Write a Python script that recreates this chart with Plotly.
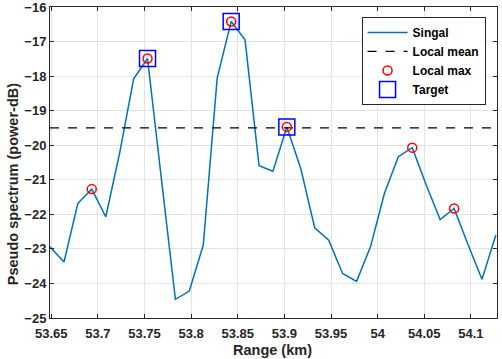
import plotly.graph_objects as go

range_km = [53.6486, 53.6636, 53.6785, 53.6934, 53.7084, 53.7233, 53.7383, 53.7532,
            53.7681, 53.7831, 53.7980, 53.8130, 53.8279, 53.8429, 53.8578, 53.8728,
            53.8877, 53.9026, 53.9176, 53.9325, 53.9475, 53.9624, 53.9774, 53.9923,
            54.0073, 54.0222, 54.0371, 54.0521, 54.0670, 54.0820, 54.0969, 54.1119,
            54.1268]
signal_db = [-22.94, -23.38, -21.68, -21.27, -22.07, -20.23, -18.08, -17.49,
             -20.98, -24.46, -24.22, -22.89, -18.06, -16.42, -16.95, -20.59,
             -20.75, -19.47, -20.68, -22.39, -22.75, -23.71, -23.94, -22.94,
             -21.39, -20.33, -20.07, -21.15, -22.15, -21.83, -22.87, -23.88,
             -22.60]
local_mean = -19.5
local_max_x = [53.6934, 53.7532, 53.8429, 53.9026, 54.0371, 54.0820]
local_max_y = [-21.27, -17.49, -16.42, -19.47, -20.07, -21.83]
target_x = [53.7532, 53.8429, 53.9026]
target_y = [-17.49, -16.42, -19.47]

x_tickvals = [53.65, 53.7, 53.75, 53.8, 53.85, 53.9, 53.95, 54.0, 54.05, 54.1]
x_ticktext = ["53.65", "53.7", "53.75", "53.8", "53.85", "53.9", "53.95", "54", "54.05", "54.1"]
y_tickvals = [-25, -24, -23, -22, -21, -20, -19, -18, -17, -16]

x_title = "Range (km)"
y_title = "Pseudo spectrum (power-dB)"

x_range = [53.6486, 54.1280]
y_range = [-25, -16]

FONT = "Liberation Sans, Arial, sans-serif"

fig = go.Figure()
fig.add_trace(go.Scatter(x=range_km, y=signal_db, mode="lines", name="Singal",
                         line=dict(color="#0072BD", width=1.5)))
fig.add_trace(go.Scatter(x=x_range, y=[local_mean, local_mean], mode="lines", name="Local mean",
                         line=dict(color="black", width=1.3, dash="dash")))
fig.add_trace(go.Scatter(x=local_max_x, y=local_max_y, mode="markers", name="Local max",
                         marker=dict(symbol="circle-open", size=9, color="red",
                                     line=dict(color="red", width=1.5))))
fig.add_trace(go.Scatter(x=target_x, y=target_y, mode="markers", name="Target",
                         marker=dict(symbol="square-open", size=16, color="blue",
                                     line=dict(color="blue", width=1.5))))

axis_common = dict(showgrid=True, gridcolor="#e3e3e3", gridwidth=1,
                   showline=True, linecolor="#262626", linewidth=1, mirror="ticks",
                   ticks="inside", ticklen=4, tickcolor="#262626",
                   tickfont=dict(family=FONT, size=13, color="#262626", weight="bold"),
                   ticklabeloverflow="allow",
                   zeroline=False, automargin=False)

fig.update_xaxes(range=x_range, tickvals=x_tickvals, ticktext=x_ticktext,
                 ticklabelstandoff=3, **axis_common)
fig.update_yaxes(range=y_range, tickvals=y_tickvals,
                 ticklabelstandoff=0, **axis_common)

title_font = dict(family=FONT, size=14.5, color="#262626", weight="bold")
fig.add_annotation(text=x_title, xref="paper", yref="paper", x=0.4974, y=-0.1331,
                   xanchor="center", yanchor="bottom", showarrow=False, font=title_font,
                   borderpad=0)
fig.add_annotation(text=y_title, xref="paper", yref="paper", x=-0.0825, y=0.4307,
                   xanchor="center", yanchor="middle", textangle=-90, showarrow=False,
                   font=title_font)

fig.update_layout(
    width=502, height=359,
    margin=dict(l=50, r=4.7, t=7.3, b=41.3),
    plot_bgcolor="white", paper_bgcolor="white",
    font=dict(family=FONT, color="#262626"),
    showlegend=True,
    legend=dict(x=0.697, y=0.968, xanchor="left", yanchor="top",
                bgcolor="white", bordercolor="#262626", borderwidth=1,
                font=dict(family=FONT, size=12, color="black", weight="bold"),
                tracegroupgap=0, itemwidth=40),
)

fig.write_html("out.html", config={"displayModeBar": False},
               post_script="document.body.style.margin='0';")
